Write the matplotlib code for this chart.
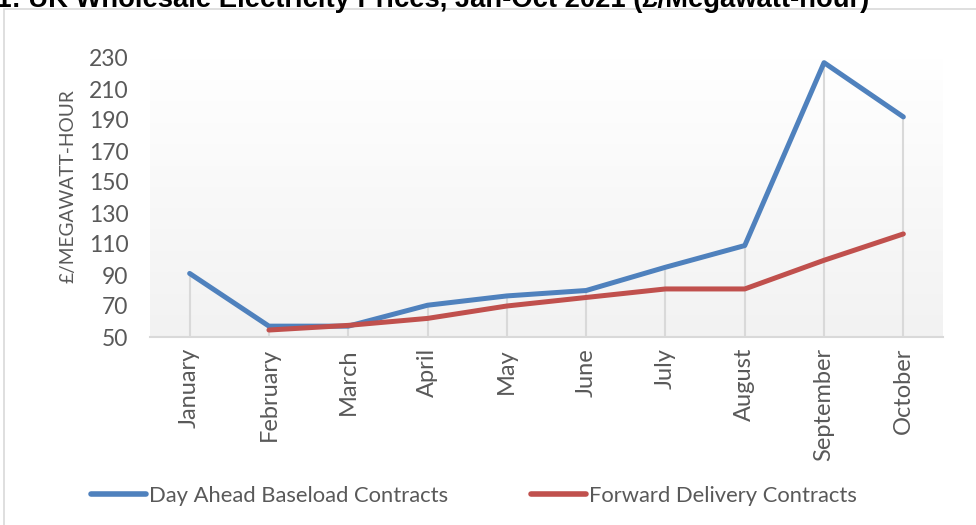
import numpy as np
import matplotlib
matplotlib.use("Agg")
import matplotlib.pyplot as plt
from matplotlib.patches import Rectangle
from matplotlib.lines import Line2D
from matplotlib.colors import LinearSegmentedColormap

months = ["January", "February", "March", "April", "May", "June", "July",
          "August", "September", "October"]
day_ahead = [91, 57, 57, 70.5, 76.5, 80, 95, 109, 227, 192]
forward = [np.nan, 54.5, 57.5, 62, 70, 75.5, 81, 81, 99.5, 116.5]
yticks = [50, 70, 90, 110, 130, 150, 170, 190, 210, 230]

title = "Figure 1: UK Wholesale Electricity Prices, Jan-Oct 2021 (£/Megawatt-hour)"
ylabel = "£/MEGAWATT-HOUR"
labels = ["Day Ahead Baseload Contracts", "Forward Delivery Contracts"]
blue = "#4f81bd"
red = "#c0504d"
txt = "#595959"
FONT = "Lato"

W, H = 976, 525
fig = plt.figure(figsize=(W / 100, H / 100), dpi=100)

# chart border
fig.patches.append(Rectangle((4 / W, -0.05), 1.2, 1 - 9 / H + 0.05,
                             transform=fig.transFigure, fill=False,
                             edgecolor="#d9d9d9", linewidth=1.2))

# title (cut off at top like reference)
fig.text(869 / W, 1 - 7 / H, title, ha="right", va="baseline",
         fontsize=19.7, fontweight="bold", family="Liberation Sans", color="black")

left, right, top, bottom = 150, 943, 58, 337
ax = fig.add_axes([left / W, 1 - bottom / H, (right - left) / W, (bottom - top) / H])

x = np.arange(len(months))

# gradient background
grad = np.linspace(1, 0, 256).reshape(-1, 1)
cmap = LinearSegmentedColormap.from_list("g", ["#f2f2f2", "#ffffff"])
ax.imshow(grad, extent=[-0.5, len(months) - 0.5, 50, 230], aspect="auto",
          cmap=cmap, origin="upper", zorder=0)
ax.set_xlim(-0.5, len(months) - 0.5)
ax.set_ylim(50, 230)

# drop lines
tops = np.nanmax(np.vstack([day_ahead, forward]), axis=0)
ax.vlines(x, 50, tops, color="#d9d9d9", linewidth=1.5, zorder=1)

ax.plot(x, day_ahead, color=blue, linewidth=3.6, solid_capstyle="round",
        solid_joinstyle="round", zorder=3)
ax.plot(x, forward, color=red, linewidth=3.6, solid_capstyle="round",
        solid_joinstyle="round", zorder=3)

for s in ["left", "right", "top"]:
    ax.spines[s].set_visible(False)
ax.spines["bottom"].set_color("#d9d9d9")
ax.spines["bottom"].set_linewidth(1.5)

ax.set_yticks(yticks)
ax.set_yticklabels([str(v) for v in yticks], fontsize=16.5, color=txt, family=FONT)
ax.tick_params(axis="y", length=0, pad=15.5)
ax.set_xticks(x)
ax.set_xticklabels(months, rotation=90, fontsize=17, color=txt, family=FONT)
ax.tick_params(axis="x", length=0, pad=8)

fig.text(68 / W, 1 - 186 / H, ylabel, rotation=90, ha="center", va="center",
         fontsize=13.8, color=txt, family=FONT)

handles = [Line2D([], [], color=blue, linewidth=4, solid_capstyle="round"),
           Line2D([], [], color=red, linewidth=4, solid_capstyle="round")]
fig.legend(handles, labels, loc="center", bbox_to_anchor=(474 / W, 1 - 496 / H),
           ncol=2, frameon=False, handlelength=2.5, handletextpad=0.15,
           columnspacing=3.8, prop={"family": FONT, "size": 15.8},
           labelcolor=txt, borderpad=0, borderaxespad=0)

fig.savefig("out.png", dpi=100)
